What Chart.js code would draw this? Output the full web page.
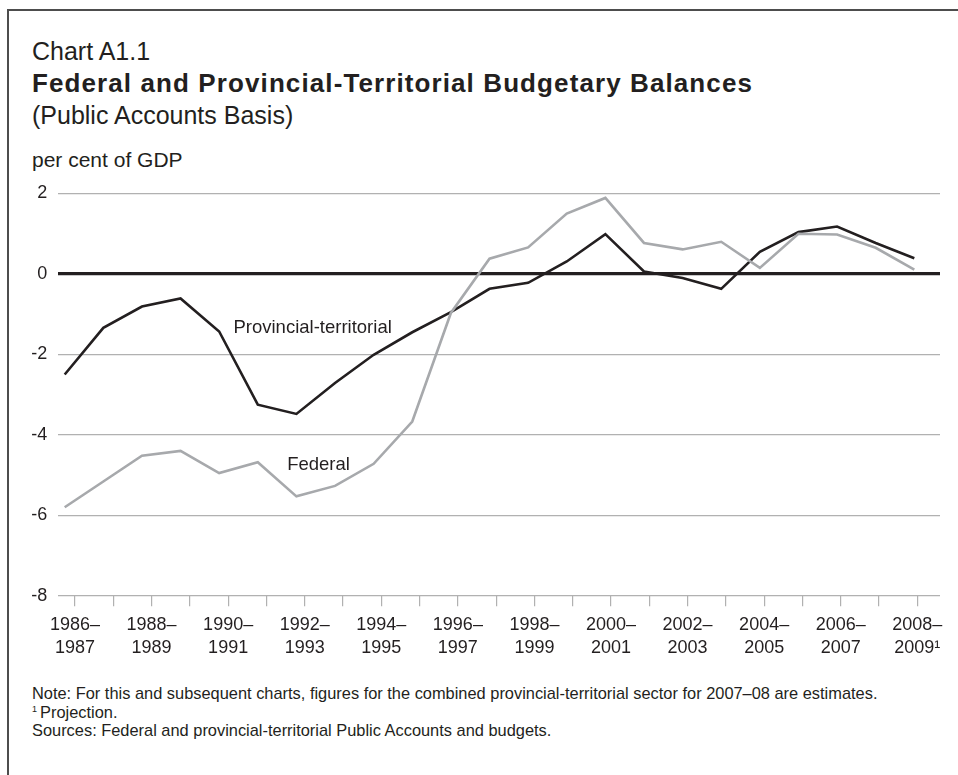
<!DOCTYPE html>
<html>
<head>
<meta charset="utf-8">
<script src="https://cdn.jsdelivr.net/npm/chart.js@4.4.1/dist/chart.umd.min.js"></script>
<style>
  html, body { margin: 0; padding: 0; background: #fff; overflow: hidden; }
  body { width: 958px; height: 775px; position: relative; font-family: "Liberation Sans", Arial, sans-serif; color: #231f20; }
  .frame { position: absolute; left: 7px; top: 9px; width: 1000px; height: 800px; border-left: 2px solid #4d4d4d; border-top: 2px solid #4d4d4d; }
  .txt { position: absolute; left: 32px; white-space: nowrap; line-height: 1; }
  #chartNo { top: 39px; font-size: 25px; }
  #title { top: 70px; font-size: 26px; font-weight: bold; letter-spacing: 1.1px; }
  #subtitle { top: 103px; font-size: 25px; }
  #unit { top: 149px; font-size: 21px; }
  #notes { top: 684px; font-size: 16.4px; line-height: 18.5px; }
  #notes sup { font-size: 9px; vertical-align: 6px; line-height: 0; margin-right: 3px; }
  canvas { position: absolute; left: 0; top: 0; }
</style>
</head>
<body>
<div class="frame"></div>
<div class="txt" id="chartNo">Chart A1.1</div>
<div class="txt" id="title">Federal and Provincial-Territorial Budgetary Balances</div>
<div class="txt" id="subtitle">(Public Accounts Basis)</div>
<div class="txt" id="unit">per cent of GDP</div>
<canvas id="balances" width="958" height="670"></canvas>
<div class="txt" id="notes">
  Note: For this and subsequent charts, figures for the combined provincial-territorial sector for 2007–08 are estimates.<br>
  <sup>1</sup>Projection.<br>
  Sources: Federal and provincial-territorial Public Accounts and budgets.
</div>

<script>
// fiscal years, per cent of GDP
const fiscalYears = [
  '1986–1987', '1987–1988', '1988–1989', '1989–1990', '1990–1991', '1991–1992',
  '1992–1993', '1993–1994', '1994–1995', '1995–1996', '1996–1997', '1997–1998',
  '1998–1999', '1999–2000', '2000–2001', '2001–2002', '2002–2003', '2003–2004',
  '2004–2005', '2005–2006', '2006–2007', '2007–2008', '2008–2009¹'
];
const provincial = [
  -2.50, -1.34, -0.81, -0.61, -1.43, -3.25, -3.48, -2.71, -2.01, -1.45, -0.95, -0.37,
  -0.22, 0.31, 0.99, 0.06, -0.10, -0.37, 0.55, 1.04, 1.18, 0.77, 0.39
];
const federal = [
  -5.80, -5.16, -4.52, -4.40, -4.95, -4.68, -5.53, -5.27, -4.72, -3.67, -0.97, 0.38,
  0.66, 1.50, 1.89, 0.77, 0.61, 0.80, 0.15, 1.00, 0.98, 0.65, 0.11
];

const INK = '#231f20';
const GREY = '#a7a9ac';
const RULE = '#b1b1b1';
const FONT = '"Liberation Sans", Arial, sans-serif';

// in-plot series names, anchored in data units
const seriesNames = {
  id: 'seriesNames',
  afterDatasetsDraw(chart) {
    const { ctx, scales: { x, y } } = chart;
    ctx.save();
    ctx.fillStyle = INK;
    ctx.font = '18.5px ' + FONT;
    ctx.textAlign = 'left';
    ctx.textBaseline = 'alphabetic';
    ctx.fillText('Provincial-territorial', x.getPixelForValue(4.37), y.getPixelForValue(-1.47));
    ctx.fillText('Federal', x.getPixelForValue(5.76), y.getPixelForValue(-4.87));
    ctx.restore();
  }
};

const toPoints = arr => arr.map((v, i) => ({ x: i, y: v }));

new Chart(document.getElementById('balances'), {
  type: 'line',
  data: {
    datasets: [
      { label: 'Federal', data: toPoints(federal), borderColor: GREY, borderWidth: 2.6 },
      { label: 'Provincial-territorial', data: toPoints(provincial), borderColor: INK, borderWidth: 2.6 }
    ]
  },
  options: {
    responsive: false,
    animation: false,
    devicePixelRatio: 1,
    layout: { padding: { top: 193.5, right: 18, bottom: 0, left: 0 } },
    elements: { point: { radius: 0 }, line: { tension: 0 } },
    plugins: { legend: { display: false }, tooltip: { enabled: false } },
    scales: {
      x: {
        type: 'linear',
        display: false,
        min: -0.1657,
        max: 22.665
      },
      years: {
        type: 'linear',
        position: 'bottom',
        min: -0.4362,
        max: 22.593,
        afterBuildTicks: scale => {
          scale.ticks = fiscalYears.map((_, i) => ({ value: i }));
        },
        afterFit: scale => { scale.height = 74.3; },
        border: { display: false },
        grid: { drawOnChartArea: false, drawTicks: true, tickLength: 10.5, color: RULE, lineWidth: 1.2 },
        ticks: {
          autoSkip: false,
          maxRotation: 0,
          padding: 7.5,
          color: INK,
          font: { family: FONT, size: 18, lineHeight: 1.26 },
          callback: (value) => {
            const i = Math.round(value);
            if (i % 2 !== 0) return '';
            const [from, to] = fiscalYears[i].split('–');
            return [from + '–', to];
          }
        }
      },
      y: {
        min: -8,
        max: 2,
        afterFit: scale => { scale.width = 58.3; },
        border: { display: false },
        grid: {
          drawTicks: false,
          color: ctx => ctx.tick && ctx.tick.value === 0 ? INK : RULE,
          lineWidth: ctx => ctx.tick && ctx.tick.value === 0 ? 3.3 : 1.3
        },
        ticks: {
          stepSize: 2,
          padding: 11,
          color: INK,
          font: { family: FONT, size: 18 }
        }
      }
    }
  },
  plugins: [seriesNames]
});
</script>
</body>
</html>
